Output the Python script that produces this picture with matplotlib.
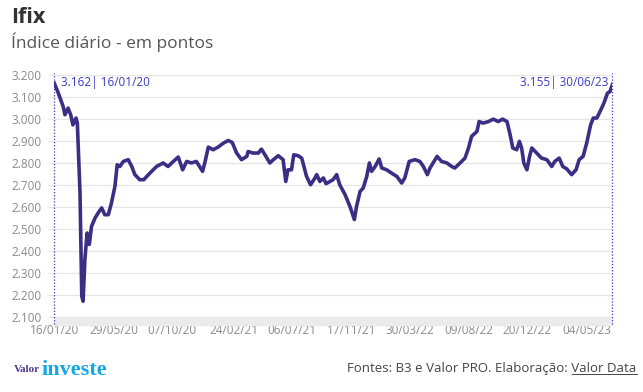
import matplotlib
matplotlib.use("Agg")
import matplotlib.pyplot as plt
from matplotlib.patches import Rectangle
import numpy as np

# Ifix daily index
dates = [
    "2020-01-16", "2020-01-25", "2020-02-05", "2020-02-09", "2020-02-16", "2020-02-22",
    "2020-02-27", "2020-03-05", "2020-03-08", "2020-03-10", "2020-03-14", "2020-03-18",
    "2020-03-21", "2020-03-25", "2020-03-30", "2020-04-04", "2020-04-09", "2020-04-17",
    "2020-04-24", "2020-05-02", "2020-05-09", "2020-05-17", "2020-05-24", "2020-06-01",
    "2020-06-06", "2020-06-12", "2020-06-20", "2020-07-01", "2020-07-09", "2020-07-16",
    "2020-07-27", "2020-08-05", "2020-08-19", "2020-09-03", "2020-09-18", "2020-09-29",
    "2020-10-11", "2020-10-22", "2020-11-01", "2020-11-10", "2020-11-21", "2020-12-02",
    "2020-12-16", "2020-12-21", "2020-12-29", "2021-01-09", "2021-01-20", "2021-02-01",
    "2021-02-12", "2021-02-21", "2021-03-03", "2021-03-14", "2021-03-26", "2021-03-29",
    "2021-04-09", "2021-04-21", "2021-04-28", "2021-05-06", "2021-05-17", "2021-05-25",
    "2021-06-05", "2021-06-16", "2021-06-22", "2021-06-27", "2021-07-05", "2021-07-10",
    "2021-07-20", "2021-07-28", "2021-08-08", "2021-08-17", "2021-08-27", "2021-08-31",
    "2021-09-07", "2021-09-15", "2021-09-21", "2021-09-30", "2021-10-07", "2021-10-15",
    "2021-10-22", "2021-11-03", "2021-11-14", "2021-11-24", "2021-11-29", "2021-12-07",
    "2021-12-14", "2021-12-22", "2021-12-28", "2022-01-02", "2022-01-10", "2022-01-19",
    "2022-01-25", "2022-02-05", "2022-02-16", "2022-02-28", "2022-03-11", "2022-03-18",
    "2022-03-28", "2022-04-10", "2022-04-21", "2022-04-29", "2022-05-08", "2022-05-14",
    "2022-05-21", "2022-05-30", "2022-06-09", "2022-06-21", "2022-07-02", "2022-07-09",
    "2022-07-21", "2022-08-01", "2022-08-09", "2022-08-16", "2022-08-28", "2022-09-02",
    "2022-09-11", "2022-09-23", "2022-10-04", "2022-10-15", "2022-10-25", "2022-11-04",
    "2022-11-11", "2022-11-17", "2022-11-26", "2022-12-02", "2022-12-07", "2022-12-12",
    "2022-12-19", "2022-12-25", "2022-12-30", "2023-01-10", "2023-01-21", "2023-02-02",
    "2023-02-13", "2023-02-20", "2023-03-02", "2023-03-10", "2023-03-19", "2023-03-30",
    "2023-04-09", "2023-04-16", "2023-04-25", "2023-05-03", "2023-05-12", "2023-05-18",
    "2023-05-26", "2023-06-04", "2023-06-11", "2023-06-19", "2023-06-25", "2023-06-30",
]
values = [
    3162, 3117, 3056, 3019, 3049, 3019,
    2973, 3004, 2981, 2875, 2665, 2195,
    2172, 2361, 2482, 2430, 2512, 2550,
    2573, 2596, 2565, 2565, 2618, 2694,
    2792, 2784, 2807, 2815, 2784, 2747,
    2724, 2724, 2754, 2784, 2800, 2784,
    2807, 2827, 2769, 2807, 2800, 2807,
    2762, 2800, 2872, 2860, 2872, 2890,
    2902, 2893, 2845, 2815, 2830, 2852,
    2845, 2845, 2863, 2837, 2800, 2815,
    2833, 2815, 2716, 2769, 2769, 2837,
    2833, 2822, 2739, 2701, 2732, 2747,
    2716, 2732, 2706, 2716, 2724, 2747,
    2701, 2656, 2603, 2543, 2603, 2671,
    2686, 2739, 2800, 2762, 2784, 2818,
    2777, 2769, 2754, 2739, 2709, 2732,
    2807, 2815, 2807, 2784, 2747, 2777,
    2800, 2830, 2807, 2800, 2784, 2777,
    2800, 2822, 2868, 2921, 2943, 2988,
    2981, 2988, 2999, 2988, 2999, 2988,
    2928, 2868, 2860, 2898, 2868, 2800,
    2769, 2830, 2868, 2845, 2822, 2815,
    2784, 2807, 2822, 2784, 2773, 2747,
    2769, 2815, 2830, 2890, 2973, 3004,
    3004, 3041, 3072, 3117, 3125, 3155,
]

tick_dates = ["2020-01-16", "2020-05-29", "2020-10-07", "2021-02-24", "2021-07-06",
              "2021-11-17", "2022-03-30", "2022-08-09", "2022-12-20", "2023-05-04"]
tick_labels = ["16/01/20", "29/05/20", "07/10/20", "24/02/21", "06/07/21",
               "17/11/21", "30/03/22", "09/08/22", "20/12/22", "04/05/23"]
y_ticks = [2100, 2200, 2300, 2400, 2500, 2600, 2700, 2800, 2900, 3000, 3100, 3200]

first_label = "3.162| 16/01/20"
last_label = "3.155| 30/06/23"

x = np.array(dates, dtype="datetime64[D]")
xt = np.array(tick_dates, dtype="datetime64[D]")

plt.rcParams['font.family'] = ['Open Sans', 'DejaVu Sans']

fig = plt.figure(figsize=(6.43, 3.92), dpi=100)
ax = fig.add_axes([0.0845, 0.191, 0.8678, 0.618])

line_color = '#3a2f85'
blue = '#3b3bc4'

ax.plot(x, values, '-', linewidth=2.6, color=line_color, solid_joinstyle='round', zorder=3)

ax.set_xlim(x[0], x[-1])
ax.set_ylim(2100, 3200)
ax.set_yticks(y_ticks)
ax.set_yticklabels([f"{v:,}".replace(",", ".") for v in y_ticks])
ax.set_xticks(xt)
ax.set_xticklabels(tick_labels)

ax.yaxis.grid(True, color='#e6e6e6', linewidth=0.9)
ax.set_axisbelow(True)
for s in ax.spines.values():
    s.set_visible(False)
ax.tick_params(axis='y', length=4, color='#e6e6e6', pad=5, labelsize=8.5, labelcolor='#8a8a8a')
ax.tick_params(axis='x', length=0, pad=5, labelsize=8.5, labelcolor='#8a8a8a')

# grey band under the plot
ax.add_patch(Rectangle((0, -0.033), 1, 0.033, transform=ax.transAxes,
                       color='#ebebeb', clip_on=False, zorder=1))

# dotted markers at first and last day
ax.vlines([x[0], x[-1]], 2070, 3210, colors=blue, linestyles=(0, (1, 1.5)),
          linewidth=0.9, clip_on=False, zorder=4)
ax.text(x[0] + np.timedelta64(14, 'D'), 3165, first_label, color=blue,
        fontsize=8.5, ha='left', va='center')
ax.text(x[-1] - np.timedelta64(10, 'D'), 3165, last_label, color=blue,
        fontsize=8.5, ha='right', va='center')

fig.text(0.017, 0.955, "Ifix", fontsize=15.5, fontweight='bold', color='#333333', va='center')
fig.text(0.017, 0.893, "Índice diário - em pontos", fontsize=12.5, color='#555555', va='center')

# logo
valor = fig.text(0.022, 0.058, "Valor", fontsize=8, family='Liberation Serif', color='#4b3a8f',
                 fontweight='bold', va='center')
fig.canvas.draw()
vb = valor.get_window_extent()
fig.text(vb.x1 / fig.bbox.width + 0.002, 0.055, "investe", fontsize=16,
         family='Liberation Serif', color='#13a8e8', fontweight='bold', va='center')

src = fig.text(0.99, 0.06, "Fontes: B3 e Valor PRO. Elaboração: Valor Data",
               fontsize=9.5, color='#444444', ha='right', va='center')
fig.canvas.draw()
bb = src.get_window_extent()
# underline under "Valor Data"
tail = fig.text(0, 0, "Valor Data", fontsize=9.5)
w_tail = tail.get_window_extent().width
tail.remove()
fig.add_artist(plt.Line2D([(bb.x1 - w_tail) / fig.bbox.width, bb.x1 / fig.bbox.width],
                          [(bb.y0 + 1) / fig.bbox.height] * 2, color='#444444', linewidth=0.7))

fig.savefig("out.png", dpi=100, facecolor='white')
